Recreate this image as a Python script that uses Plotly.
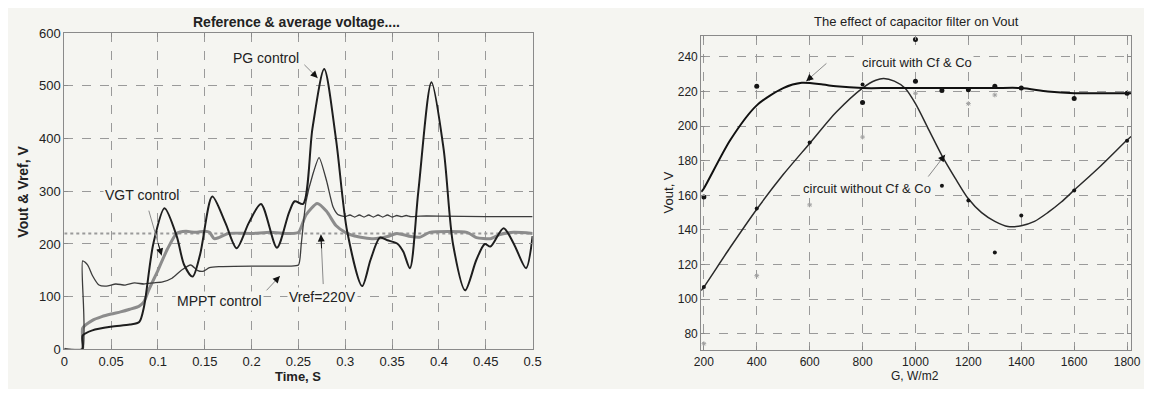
import plotly.graph_objects as go

# ---------------- Left chart data (Time, s vs Vout, V) ----------------
pg_t = [0, 0.0192, 0.0196, 0.03, 0.05, 0.07, 0.08, 0.085, 0.095, 0.107, 0.12, 0.128, 0.137, 0.145,
        0.158, 0.172, 0.184, 0.197, 0.21, 0.227, 0.24, 0.246, 0.255, 0.265, 0.2775, 0.29, 0.302,
        0.318, 0.327, 0.337, 0.345, 0.356, 0.362, 0.369, 0.378, 0.392, 0.405, 0.415, 0.428, 0.44,
        0.449, 0.455, 0.469, 0.48, 0.493, 0.5]
pg_v = [0, 0, 26, 36, 43, 47, 52, 80, 200, 268, 215, 160, 138, 180,
        290, 240, 192, 240, 276, 193, 260, 281, 276, 420, 532, 400, 224,
        120, 170, 212, 207, 200, 185, 154, 300, 507, 380, 200, 112, 170,
        200, 195, 230, 200, 154, 215]

mppt_t = [0, 0.0192, 0.0196, 0.025, 0.03, 0.037, 0.045, 0.055, 0.065, 0.075, 0.085, 0.095, 0.105,
          0.115, 0.125, 0.135, 0.142, 0.148, 0.155, 0.165, 0.2, 0.24, 0.25, 0.253, 0.258, 0.265,
          0.272, 0.28, 0.287, 0.292, 0.3, 0.305, 0.31, 0.315, 0.32, 0.325, 0.33, 0.335, 0.34,
          0.345, 0.35, 0.355, 0.36, 0.365, 0.37, 0.38, 0.4, 0.45, 0.5]
mppt_v = [0, 0, 168, 160, 140, 122, 120, 124, 122, 126, 124, 126, 128,
          135, 150, 160, 150, 148, 155, 157, 158, 158, 160, 200, 280, 330,
          364, 320, 270, 256, 252, 255, 251, 255, 251, 255, 251, 255, 251,
          255, 251, 254, 252, 254, 252, 253, 253, 252, 252]

vgt_t = [0, 0.0192, 0.0196, 0.03, 0.04, 0.05, 0.06, 0.07, 0.08, 0.085, 0.09, 0.1, 0.11, 0.12, 0.13,
         0.14, 0.15, 0.155, 0.16, 0.165, 0.175, 0.2, 0.22, 0.24, 0.25, 0.258, 0.27, 0.28, 0.29,
         0.3, 0.31, 0.33, 0.345, 0.355, 0.37, 0.38, 0.39, 0.43, 0.44, 0.455, 0.465, 0.48, 0.5]
vgt_v = [0, 0, 40, 55, 62, 67, 71, 76, 82, 90, 112, 150, 190, 220, 224,
         222, 224, 222, 210, 212, 220, 220, 222, 220, 222, 255, 277, 262, 235,
         222, 215, 210, 214, 220, 214, 213, 222, 222, 212, 210, 218, 222, 220]

vref_t = [0, 0.5]
vref_v = [220, 220]

left_xticks = [0, 0.05, 0.1, 0.15, 0.2, 0.25, 0.3, 0.35, 0.4, 0.45, 0.5]
left_xlabels = ["0", "0.05", "0.1", "0.15", "0.2", "0.25", "0.3", "0.35", "0.4", "0.45", "0.5"]
left_yticks = [0, 100, 200, 300, 400, 500, 600]

# ---------------- Right chart data (G, W/m2 vs Vout, V) ----------------
with_g = [190, 200, 300, 400, 500, 570, 650, 700, 800, 900, 1000, 1100, 1200, 1300, 1400,
          1500, 1600, 1700, 1800, 1815]
with_v = [162, 164, 192, 212, 222, 225, 224, 223, 222, 222, 222, 222, 222, 222, 222,
          220, 219, 219, 219, 219]

without_g = [190, 200, 300, 400, 500, 600, 700, 800, 850, 880, 920, 960, 1000, 1050, 1100, 1150,
             1200, 1250, 1300, 1350, 1400, 1450, 1500, 1550, 1600, 1700, 1800, 1815]
without_v = [105, 107, 130, 152, 172, 190, 208, 222, 226.5, 227.5, 226, 222, 213, 198, 183, 170,
             158, 150, 145, 142, 142.5, 145, 150, 156, 163, 177, 192, 194]

dots_with_g = [200, 400, 800, 1000, 1000, 1100, 1200, 1300, 1400, 1600, 1800]
dots_with_v = [159, 223, 213.6, 250, 226, 220.6, 221, 223, 222, 216, 219]

dots_without_g = [200, 400, 600, 800, 1100, 1200, 1300, 1400, 1600, 1800]
dots_without_v = [107, 152.4, 190.6, 224, 165.6, 157, 127, 148.3, 162.8, 191.5]

dots_gray_g = [200, 400, 600, 800, 1000, 1200, 1300]
dots_gray_v = [74.3, 113.6, 154.5, 193.7, 219, 213, 218]

right_xticks = [200, 400, 600, 800, 1000, 1200, 1400, 1600, 1800]
right_yticks = [80, 100, 120, 140, 160, 180, 200, 220, 240]

# The page adds an 8px body margin, so the figure is drawn 16px smaller and offset by 8px.
W, H = 1136, 381
OFF = 8

def px(x):
    return (x - OFF) / W

def py(y):
    return 1 - (y - OFF) / H

BG = "#f5f5f1"
GRID = "#9a9a9a"
FONT = "Liberation Sans, Arial, sans-serif"

fig = go.Figure()

# Left traces
fig.add_trace(go.Scatter(x=vref_t, y=vref_v, mode="lines",
                         line=dict(color="#9a9a9a", width=2, dash="dot"),
                         xaxis="x", yaxis="y", showlegend=False))
fig.add_trace(go.Scatter(x=vgt_t, y=vgt_v, mode="lines", line_shape="spline",
                         line=dict(color="#8c8c8c", width=3, smoothing=0.6),
                         xaxis="x", yaxis="y", showlegend=False))
fig.add_trace(go.Scatter(x=mppt_t, y=mppt_v, mode="lines", line_shape="spline",
                         line=dict(color="#3c3c3c", width=1.3, smoothing=0.6),
                         xaxis="x", yaxis="y", showlegend=False))
fig.add_trace(go.Scatter(x=pg_t, y=pg_v, mode="lines", line_shape="spline",
                         line=dict(color="#1e1e1e", width=2, smoothing=0.8),
                         xaxis="x", yaxis="y", showlegend=False))

# Right traces
fig.add_trace(go.Scatter(x=without_g, y=without_v, mode="lines", line_shape="spline",
                         line=dict(color="#2a2a2a", width=1.5, smoothing=0.8),
                         xaxis="x2", yaxis="y2", showlegend=False))
fig.add_trace(go.Scatter(x=with_g, y=with_v, mode="lines", line_shape="spline",
                         line=dict(color="#111111", width=2, smoothing=0.8),
                         xaxis="x2", yaxis="y2", showlegend=False))
fig.add_trace(go.Scatter(x=dots_gray_g, y=dots_gray_v, mode="markers",
                         marker=dict(color="#a0a0a0", size=4, symbol="asterisk-open",
                                     line=dict(color="#a0a0a0", width=1)),
                         xaxis="x2", yaxis="y2", showlegend=False))
fig.add_trace(go.Scatter(x=dots_with_g, y=dots_with_v, mode="markers",
                         marker=dict(color="#151515", size=5),
                         xaxis="x2", yaxis="y2", showlegend=False))
fig.add_trace(go.Scatter(x=dots_without_g, y=dots_without_v, mode="markers",
                         marker=dict(color="#151515", size=4),
                         xaxis="x2", yaxis="y2", showlegend=False))

axis_common = dict(showgrid=True, gridcolor=GRID, griddash="dash", gridwidth=1,
                   showline=True, linecolor="#8a8a8a", linewidth=1, mirror="ticks",
                   ticks="inside", ticklen=4, tickcolor="#8a8a8a", zeroline=False,
                   tickfont=dict(family=FONT, size=13, color="#222"))
right_font = dict(family=FONT, size=12, color="#222")

fig.update_layout(
    width=W, height=H, autosize=False,
    margin=dict(l=0, r=0, t=0, b=0),
    paper_bgcolor=BG, plot_bgcolor=BG,
    font=dict(family=FONT, color="#222"),
    xaxis=dict(domain=[px(58), px(533)], range=[0, 0.5], tickvals=left_xticks,
               ticktext=left_xlabels, anchor="y", **axis_common),
    yaxis=dict(domain=[py(356), py(27)], range=[0, 600], tickvals=left_yticks,
               anchor="x", **axis_common),
    xaxis2=dict(domain=[px(704), px(1140)], range=[190, 1815], tickvals=right_xticks,
                anchor="y2", **{**axis_common, "tickfont": right_font}),
    yaxis2=dict(domain=[py(357), py(30)], range=[70.5, 252], tickvals=right_yticks,
                anchor="x2", **{**axis_common, "tickfont": right_font}),
)

ann = []
def label(text, x, y, size, angle=0):
    return dict(text=text, x=px(x), y=py(y), xref="paper", yref="paper",
                xanchor="center", yanchor="middle", showarrow=False, textangle=angle,
                font=dict(size=size, family=FONT, color="#222"))

ann.append(label("<b>Reference &amp; average voltage....</b>", 294, 15, 14))
ann.append(label("<b>Time, S</b>", 295, 384, 13))
ann.append(label("<b>Vout &amp; Vref, V</b>", 16, 192, 14, -90))
ann.append(label("The effect of capacitor filter on Vout", 922, 15, 13))
ann.append(label("G, W/m2", 921, 384, 12))
ann.append(label("Vout, V", 671, 193, 13, -90))

def arrow(text_x, text_y, head, tail, xr, yr, text, size):
    near = (head[0] + 0.3 * (tail[0] - head[0]), head[1] + 0.3 * (tail[1] - head[1]))
    return [dict(text=text, x=text_x, y=text_y, xref=xr, yref=yr, showarrow=False,
                 xanchor="center", yanchor="middle",
                 font=dict(size=size, family=FONT, color="#222"), bgcolor=BG),
            dict(text="", x=head[0], y=head[1], ax=tail[0], ay=tail[1], xref=xr, yref=yr,
                 axref=xr, ayref=yr, showarrow=True, arrowhead=0,
                 arrowwidth=1, arrowcolor="#8a8a8a"),
            dict(text="", x=head[0], y=head[1], ax=near[0], ay=near[1], xref=xr, yref=yr,
                 axref=xr, ayref=yr, showarrow=True, arrowhead=2, arrowsize=1.4,
                 arrowwidth=1, arrowcolor="#111")]

ann += arrow(0.2158, 553, (0.2705, 515), (0.2547, 543), "x", "y", "PG control", 14)
ann += arrow(0.0826, 293, (0.1039, 178), (0.0898, 266), "x", "y", "VGT control", 14)
ann += arrow(0.1653, 92, (0.2302, 139), (0.2144, 109), "x", "y", "MPPT control", 14)
ann += arrow(0.2758, 100, (0.274, 218), (0.2765, 121), "x", "y", "Vref=220V", 14)

ann += arrow(1005, 237, (587, 226), (669, 237), "x2", "y2", "circuit with Cf &amp; Co", 13)
ann += arrow(815, 164, (1112, 183.5), (1044, 170), "x2", "y2", "circuit without Cf &amp; Co", 13)

fig.update_layout(annotations=ann)
fig.write_html("out.html", config={"displayModeBar": False, "staticPlot": True})
